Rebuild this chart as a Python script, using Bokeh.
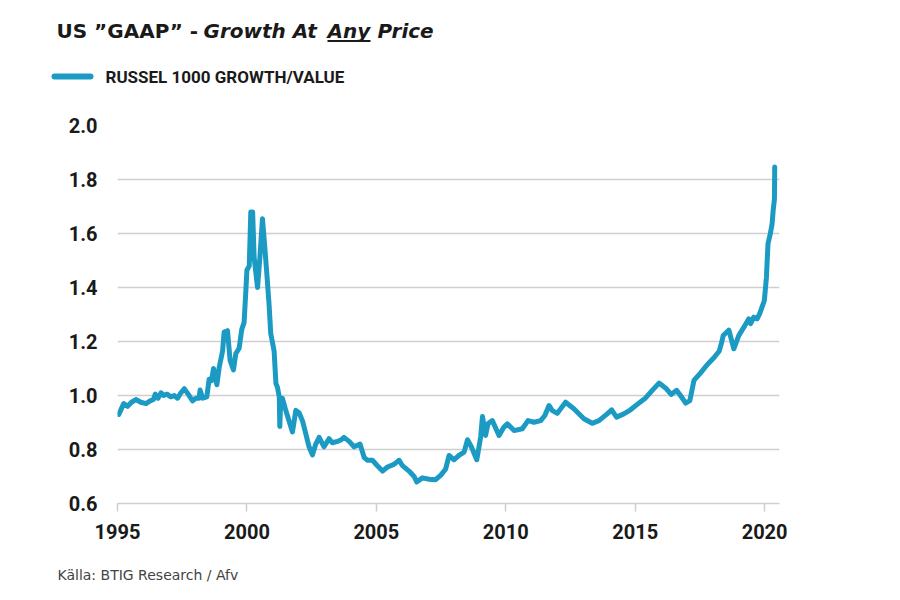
from bokeh.plotting import figure
from bokeh.layouts import column
from bokeh.models import Range1d, FixedTicker, Label, BoxAnnotation, PrintfTickFormatter
from bokeh.embed import file_html
from bokeh.resources import INLINE

years = [1995.05, 1995.24, 1995.39, 1995.54, 1995.71, 1995.90, 1996.10, 1996.26, 1996.39, 1996.46,
         1996.57, 1996.68, 1996.78, 1996.91, 1997.06, 1997.19, 1997.32, 1997.45, 1997.58, 1997.73,
         1997.90, 1998.03, 1998.15, 1998.19, 1998.29, 1998.45, 1998.54, 1998.63, 1998.71, 1998.84,
         1998.93, 1999.06, 1999.12, 1999.25, 1999.35, 1999.48, 1999.57, 1999.70, 1999.80, 1999.89,
         1999.96, 2000.00, 2000.09, 2000.15, 2000.22, 2000.28, 2000.41, 2000.50, 2000.60, 2000.67,
         2000.77, 2000.86, 2000.92, 2001.05, 2001.12, 2001.18, 2001.25, 2001.27, 2001.31, 2001.37,
         2001.50, 2001.76, 2001.89, 2002.02, 2002.15, 2002.27, 2002.40, 2002.53, 2002.66, 2002.79,
         2002.98, 2003.17, 2003.30, 2003.50, 2003.63, 2003.75, 2003.95, 2004.14, 2004.37, 2004.53,
         2004.66, 2004.85, 2005.04, 2005.24, 2005.43, 2005.68, 2005.88, 2006.01, 2006.26, 2006.46,
         2006.56, 2006.78, 2007.04, 2007.29, 2007.49, 2007.68, 2007.81, 2008.00, 2008.19, 2008.39,
         2008.52, 2008.67, 2008.88, 2009.03, 2009.10, 2009.22, 2009.31, 2009.48, 2009.74, 2009.93,
         2010.06, 2010.32, 2010.64, 2010.86, 2011.09, 2011.35, 2011.51, 2011.67, 2011.80, 2011.99,
         2012.31, 2012.63, 2013.02, 2013.34, 2013.60, 2013.92, 2014.09, 2014.28, 2014.56, 2014.82,
         2015.08, 2015.40, 2015.66, 2015.92, 2016.17, 2016.39, 2016.60, 2016.75, 2016.95, 2017.11,
         2017.27, 2017.52, 2017.78, 2018.04, 2018.25, 2018.35, 2018.40, 2018.62, 2018.81, 2019.00,
         2019.20, 2019.39, 2019.46, 2019.58, 2019.71, 2019.81, 2019.90, 2019.99, 2020.07, 2020.13,
         2020.22, 2020.29, 2020.33, 2020.38, 2020.39]
ratio = [0.930, 0.970, 0.960, 0.975, 0.985, 0.975, 0.970, 0.980, 0.985, 1.005,
         0.990, 1.010, 1.000, 1.005, 0.995, 1.000, 0.990, 1.010, 1.025, 1.005,
         0.980, 0.990, 0.990, 1.020, 0.990, 0.995, 1.060, 1.055, 1.100, 1.040,
         1.105, 1.165, 1.235, 1.240, 1.130, 1.095, 1.155, 1.175, 1.245, 1.270,
         1.390, 1.465, 1.480, 1.680, 1.680, 1.510, 1.400, 1.510, 1.655, 1.575,
         1.450, 1.330, 1.230, 1.165, 1.045, 1.030, 0.995, 0.885, 0.990, 0.990,
         0.945, 0.865, 0.945, 0.935, 0.905, 0.860, 0.810, 0.780, 0.820, 0.845,
         0.810, 0.840, 0.825, 0.830, 0.835, 0.845, 0.830, 0.810, 0.820, 0.770,
         0.760, 0.760, 0.740, 0.720, 0.735, 0.745, 0.760, 0.740, 0.720, 0.700,
         0.680, 0.695, 0.690, 0.688, 0.705, 0.728, 0.778, 0.762, 0.778, 0.790,
         0.836, 0.810, 0.762, 0.846, 0.922, 0.852, 0.895, 0.907, 0.852, 0.883,
         0.895, 0.870, 0.877, 0.907, 0.901, 0.907, 0.926, 0.963, 0.944, 0.934,
         0.975, 0.951, 0.914, 0.897, 0.907, 0.932, 0.947, 0.920, 0.932, 0.947,
         0.967, 0.991, 1.019, 1.046, 1.028, 1.004, 1.019, 1.000, 0.972, 0.981,
         1.056, 1.083, 1.114, 1.140, 1.165, 1.200, 1.222, 1.242, 1.173, 1.222,
         1.253, 1.284, 1.266, 1.290, 1.284, 1.303, 1.327, 1.352, 1.438, 1.562,
         1.599, 1.636, 1.685, 1.728, 1.846]

x_ticks = [1995, 2000, 2005, 2010, 2015, 2020]
y_ticks = [0.6, 0.8, 1.0, 1.2, 1.4, 1.6, 1.8, 2.0]
series_name = "RUSSEL 1000 GROWTH/VALUE"
title_parts = ["US \u201dGAAP\u201d -", "Growth At", "Any", "Price"]
source_text = "K\u00e4lla: BTIG Research / Afv"

W = 900
H_HEAD, H_MAIN, H_FOOT = 100, 450, 50
LINE = "#1b9bc4"
GRID = "#cfcfcf"
TXT = "#1a1a1a"
COND = "Roboto"
TITLE_FONT = "DejaVu Sans"


def no_align(f):
    try:
        f.frame_align = False
    except Exception:
        pass


def bare(height):
    f = figure(width=W, height=height, output_backend="svg", toolbar_location=None,
               x_axis_type=None, y_axis_type=None, x_range=Range1d(0, 1), y_range=Range1d(0, 1),
               min_border=0)
    f.outline_line_color = None
    f.grid.visible = False
    f.border_fill_color = "white"
    f.background_fill_color = "white"
    no_align(f)
    return f


def screen_box(f, left, right, top, bottom, color, radius=0):
    # top / bottom given in pixels from the top of this figure
    h = f.height
    f.add_layout(BoxAnnotation(left=left, right=right, top=h - top, bottom=h - bottom,
                               left_units="screen", right_units="screen",
                               top_units="screen", bottom_units="screen",
                               fill_color=color, fill_alpha=1, line_color=None,
                               border_radius=radius))


# ---------- header: title + legend ----------
hdr = bare(H_HEAD)
xs = [56, 203, 327, 377]
styles = ["bold", "bold italic", "bold italic", "bold italic"]
for t, xx, st in zip(title_parts, xs, styles):
    hdr.add_layout(Label(x=xx, y=H_HEAD - 30.7, x_units="screen", y_units="screen", text=t,
                         text_font=TITLE_FONT, text_font_style=st, text_font_size="20px",
                         text_color=TXT, text_baseline="middle"))
screen_box(hdr, 327, 370, 39.5, 41.5, TXT)

# legend: sample bar + label
screen_box(hdr, 51, 93, 73, 79, LINE, radius=3)
hdr.add_layout(Label(x=105, y=H_HEAD - 76.5, x_units="screen", y_units="screen", text=series_name,
                     text_font=COND, text_font_style="bold", text_font_size="17px",
                     text_color=TXT, text_baseline="middle"))

# ---------- main chart ----------
p = figure(width=W, height=H_MAIN, output_backend="svg", toolbar_location=None,
           x_range=Range1d(1995, 2020.575), y_range=Range1d(0.6, 2.0),
           min_border_left=117, min_border_right=121, min_border_top=25, min_border_bottom=47)
p.outline_line_color = None
p.background_fill_color = "white"
p.border_fill_color = "white"
no_align(p)

p.line(years, ratio, line_color=LINE, line_width=5, line_join="round", line_cap="round")

p.xaxis.ticker = FixedTicker(ticks=x_ticks)
p.xaxis.axis_line_color = GRID
p.xaxis.axis_line_width = 1.5
p.xaxis.major_tick_line_color = GRID
p.xaxis.major_tick_line_width = 1.5
p.xaxis.major_tick_out = 8
p.xaxis.major_tick_in = 0
p.xaxis.minor_tick_line_color = None
p.xaxis.major_label_standoff = 12
p.xaxis.major_label_text_font = COND
p.xaxis.major_label_text_font_style = "bold"
p.xaxis.major_label_text_font_size = "20px"
p.xaxis.major_label_text_color = TXT

p.yaxis.ticker = FixedTicker(ticks=y_ticks)
p.yaxis.formatter = PrintfTickFormatter(format="%.1f")
p.yaxis.axis_line_color = None
p.yaxis.major_tick_line_color = None
p.yaxis.minor_tick_line_color = None
p.yaxis.major_label_standoff = 14
p.yaxis.major_label_text_font = COND
p.yaxis.major_label_text_font_style = "bold"
p.yaxis.major_label_text_font_size = "20px"
p.yaxis.major_label_text_color = TXT

p.xgrid.grid_line_color = None
p.ygrid.ticker = FixedTicker(ticks=y_ticks)
p.ygrid.grid_line_color = GRID
p.ygrid.grid_line_width = 1.5

# ---------- footer: source ----------
ftr = bare(H_FOOT)
ftr.add_layout(Label(x=57, y=H_FOOT - 24, x_units="screen", y_units="screen", text=source_text,
                     text_font=TITLE_FONT, text_font_size="14px", text_color="#444444",
                     text_baseline="middle"))

layout = column(hdr, p, ftr, spacing=0)
open("out.html", "w").write(file_html(layout, INLINE))
